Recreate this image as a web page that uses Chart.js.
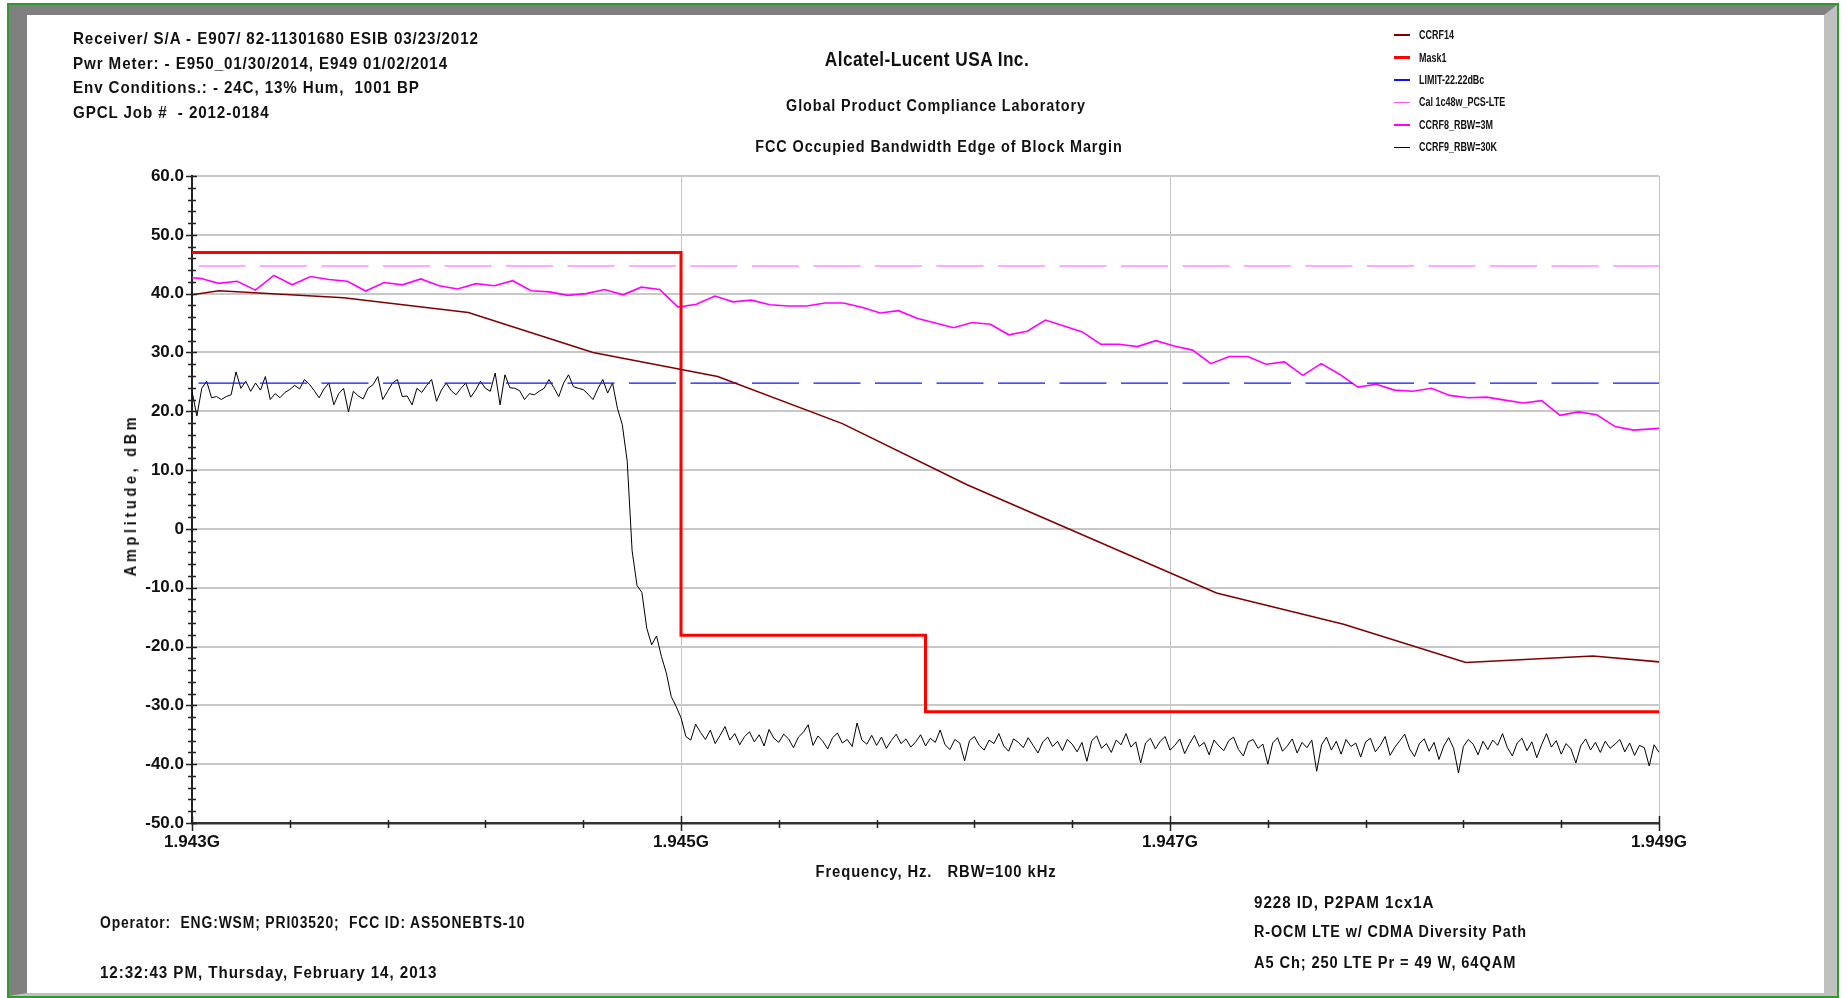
<!DOCTYPE html>
<html>
<head>
<meta charset="utf-8">
<script src="https://cdn.jsdelivr.net/npm/chart.js@4.4.1/dist/chart.umd.min.js"></script>
<style>
  html, body { margin: 0; padding: 0; background: #fff; }
  body { width: 1847px; height: 998px; position: relative; overflow: hidden;
         font-family: "Liberation Sans", Arial, sans-serif;
         font-weight: bold; color: #111; }
  #frame { position: absolute; left: 7px; top: 3px; width: 1828px; height: 991px;
           border: 2px solid #2e9b2e; }
  #bevel { position: absolute; left: 0; top: 0; right: 0; bottom: 0;
           border-left: 18px solid #808080; border-top: 10px solid #808080;
           border-right: 13px solid #c0c0c0; border-bottom: 3px solid #c0c0c0; }
  #chart { position: absolute; left: 0; top: 0; }
  .txt { position: absolute; white-space: pre; line-height: 1; display: inline-block; letter-spacing: 1px; }
  .left { transform-origin: left center; }
  .mid { transform-origin: center center; }
  #legend { position: absolute; left: 1394px; top: 24px; }
  .lg { height: 22.4px; display: flex; align-items: center; font-size: 12px; }
  .lg span { display: inline-block; transform-origin: left center; white-space: pre; }
  .sw { width: 16px; margin-right: 9px; flex: none; }
</style>
</head>
<body>
<div id="frame"><div id="bevel"></div></div>
<canvas id="chart" width="1847" height="998"></canvas>

<div class="txt left fit" data-w="406" style="left:73px; top:27px; font-size:17px; line-height:24.5px;">Receiver/ S/A - E907/ 82-11301680 ESIB 03/23/2012
Pwr Meter: - E950_01/30/2014, E949 01/02/2014
Env Conditions.: - 24C, 13% Hum,  1001 BP
GPCL Job #  - 2012-0184</div>

<div class="txt mid fit" data-w="204" data-pre="translateX(-50%)" style="left:927px; top:49px; font-size:20px; letter-spacing:0.5px;">Alcatel-Lucent USA Inc.</div>
<div class="txt mid fit" data-w="300" data-pre="translateX(-50%)" style="left:936px; top:98px; font-size:16px;">Global Product Compliance Laboratory</div>
<div class="txt mid fit" data-w="367" data-pre="translateX(-50%)" style="left:939px; top:139px; font-size:16px;">FCC Occupied Bandwidth Edge of Block Margin</div>

<div class="txt mid fit" data-w="241" data-pre="translateX(-50%)" style="left:936px; top:864px; font-size:16px;">Frequency, Hz.   RBW=100 kHz</div>
<div class="txt mid fit" data-w="163" data-pre="translateX(-50%) rotate(-90deg)" style="left:131px; top:487px; font-size:16px; letter-spacing:4px;">Amplitude, dBm</div>

<div class="txt left fit" data-w="425" style="left:100px; top:915px; font-size:16px;">Operator:  ENG:WSM; PRI03520;  FCC ID: AS5ONEBTS-10</div>
<div class="txt left fit" data-w="337" style="left:100px; top:965px; font-size:16px;">12:32:43 PM, Thursday, February 14, 2013</div>

<div class="txt left fit" data-w="180" style="left:1254px; top:895px; font-size:16px;">9228 ID, P2PAM 1cx1A</div>
<div class="txt left fit" data-w="273" style="left:1254px; top:924px; font-size:16px;">R-OCM LTE w/ CDMA Diversity Path</div>
<div class="txt left fit" data-w="262" style="left:1254px; top:955px; font-size:16px;">A5 Ch; 250 LTE Pr = 49 W, 64QAM</div>

<div id="legend"></div>

<script>
// --- Axis ranges / ticks ---
const xMin = 1.943, xMax = 1.949;
const yMin = -50, yMax = 60;
const xMajorTicks = [1.943, 1.945, 1.947, 1.949];
const xMinorStep = 0.0004;
const yMajorTicks = [-50, -40, -30, -20, -10, 0, 10, 20, 30, 40, 50, 60];
const yMinorStep = 2;

// --- CCRF14 (RBW trace, few vertices) ---
const ccrf14Freq = [1.943, 1.94311, 1.94362, 1.94413, 1.94464, 1.94515, 1.94566, 1.94617, 1.94719, 1.94771, 1.94821, 1.94873, 1.949];
const ccrf14Amp  = [39.8, 40.5, 39.3, 36.8, 30.0, 25.9, 17.9, 7.5, -10.9, -16.2, -22.7, -21.6, -22.6];

// --- Mask1 (step mask) ---
const maskFreq = [1.943, 1.945, 1.945, 1.946, 1.946, 1.949];
const maskAmp  = [47.0, 47.0, -18.1, -18.1, -31.1, -31.1];

// --- flat reference levels ---
const limitLevel = 24.78;   // LIMIT-22.22dBc
const calLevel = 44.7;      // Cal 1c48w_PCS-LTE

// --- CCRF8_RBW=3M (sweep points) ---
const ccrf8Start = 1.943034, ccrf8Step = 0.00007515;
const ccrf8EdgeLeft = 42.7, ccrf8EdgeRight = 17.1;
const ccrf8Amp = [
  42.6, 41.75, 42.1, 40.6, 43.1, 41.5, 42.9, 42.4, 42.1, 40.45,
  41.9, 41.5, 42.5, 41.35, 40.8, 41.7, 41.35, 42.2, 40.5, 40.3,
  39.7, 40.0, 40.7, 39.8, 41.1, 40.7, 37.7, 38.2, 39.6, 38.6,
  38.9, 38.1, 37.9, 37.9, 38.4, 38.4, 37.7, 36.7, 37.1, 35.8,
  35.0, 34.2, 35.1, 34.8, 33.0, 33.6, 35.5, 34.5, 33.5, 31.4,
  31.4, 31.0, 32.0, 31.1, 30.4, 28.1, 29.3, 29.3, 28.0, 28.4,
  26.1, 28.1, 26.3, 24.1, 24.6, 23.6, 23.4, 23.9, 22.7, 22.3,
  22.4, 21.9, 21.4, 21.8, 19.3, 19.9, 19.4, 17.4, 16.8
];

// --- CCRF9_RBW=30K (sweep points, 20 kHz) ---
const ccrf9Start = 1.943, ccrf9Step = 0.00002;
const ccrf9Amp = [
  23.4, 19.2, 23.9, 25.1, 22.3, 22.5, 22.0, 22.5, 22.8, 26.7,
  23.9, 25.1, 23.4, 24.8, 23.6, 25.9, 22.0, 23.0, 22.3, 23.2,
  23.7, 24.4, 23.8, 25.4, 24.6, 23.5, 22.3, 23.8, 24.8, 21.1,
  23.0, 23.9, 19.9, 23.4, 22.6, 22.1, 23.9, 24.5, 25.9, 22.0,
  23.4, 24.8, 25.4, 22.5, 22.6, 21.1, 23.9, 23.2, 24.4, 25.4,
  21.7, 23.6, 24.8, 23.5, 22.8, 23.9, 24.8, 22.4, 23.6, 25.1,
  23.9, 23.4, 26.5, 21.1, 26.2, 24.0, 23.9, 23.5, 22.0, 23.0,
  22.8, 23.4, 23.9, 25.4, 24.0, 22.5, 24.8, 26.2, 24.2, 23.9,
  23.7, 22.9, 22.0, 23.8, 25.4, 23.1, 24.8, 20.5, 17.7, 11.5,
  -3.7, -9.6, -10.8, -16.9, -19.7, -18.2, -21.7, -24.5, -28.5, -30.2,
  -32.1, -35.3, -35.9, -33.2, -34.6, -35.8, -34.2, -36.5, -35.1, -33.6,
  -35.9, -34.8, -36.7, -35.3, -34.5, -36.2, -35.0, -36.9, -34.1, -35.6,
  -36.3, -34.9, -35.7, -37.2, -35.4, -34.6, -33.3, -36.8, -35.2, -36.1,
  -37.4, -35.5, -34.7, -36.4, -35.8, -37.0, -33.0, -35.9, -36.6, -35.1,
  -36.8, -35.4, -37.3, -36.0, -34.9, -36.5, -35.7, -37.1, -36.2, -35.0,
  -36.9, -35.6, -36.3, -34.2, -36.7, -37.5, -35.8, -36.4, -39.4, -36.0,
  -35.3, -36.8, -37.6, -35.9, -36.5, -34.8, -36.9, -37.8, -35.7, -36.3,
  -37.2, -35.5, -36.8, -38.1, -36.2, -35.4, -37.0, -36.1, -37.7, -35.8,
  -36.6, -37.9, -36.3, -39.5, -36.0, -35.2, -37.3, -36.5, -38.0, -35.9,
  -36.7, -34.8, -37.1, -36.2, -39.8, -36.4, -35.6, -37.4, -36.1, -35.3,
  -37.6, -36.8, -35.7, -38.2, -36.5, -35.1, -37.0, -36.3, -38.4, -35.9,
  -36.9, -37.7, -36.0, -35.4, -37.5, -38.6, -36.2, -35.8, -37.3, -36.6,
  -40.0, -36.4, -35.5, -37.8, -36.9, -35.7, -38.1, -36.3, -37.2, -35.9,
  -41.2, -36.7, -35.4, -37.6, -36.1, -38.3, -35.8, -37.0, -36.4, -38.8,
  -36.2, -35.6, -37.9, -36.8, -35.3, -38.5, -37.1, -36.0, -34.9, -37.4,
  -38.7, -36.5, -35.7, -37.8, -36.3, -39.2, -36.9, -35.5, -37.3, -41.5,
  -37.0, -35.8, -36.6, -38.4, -36.1, -37.5, -35.9, -36.8, -34.8, -37.2,
  -38.6, -36.4, -35.6, -37.7, -36.2, -38.9, -36.7, -34.8, -37.1, -36.0,
  -38.3, -36.5, -37.4, -39.8, -36.9, -35.7, -37.6, -36.3, -38.0, -36.1,
  -37.3, -36.6, -35.8, -37.9, -36.4, -38.5, -36.8, -37.2, -40.3, -36.7,
  -38.0
];

// --- helpers to turn arrays into {x,y} points ---
function pairUp(freqs, amps) {
  return freqs.map((f, i) => ({ x: f, y: amps[i] }));
}
function sweep(start, step, amps) {
  return amps.map((a, i) => ({ x: start + i * step, y: a }));
}

const ccrf8Points = [{ x: xMin, y: ccrf8EdgeLeft }]
  .concat(sweep(ccrf8Start, ccrf8Step, ccrf8Amp))
  .concat([{ x: xMax, y: ccrf8EdgeRight }]);

const FONT = '"Liberation Sans", Arial, sans-serif';

// --- minor / major tick marks like the analyzer plot ---
const tickMarks = {
  id: 'tickMarks',
  afterDraw(chart) {
    const ctx = chart.ctx;
    const xs = chart.scales.x, ys = chart.scales.y;
    const axX = xs.left, axY = ys.bottom;
    ctx.save();
    ctx.strokeStyle = '#222';
    ctx.lineWidth = 1.5;
    ctx.beginPath();
    for (let v = yMin; v <= yMax + 1e-9; v += yMinorStep) {
      const py = Math.round(ys.getPixelForValue(v)) + 0.5;
      const major = yMajorTicks.includes(Math.round(v));
      ctx.moveTo(axX - (major ? 6 : 4), py);
      ctx.lineTo(axX + (major ? 5 : 4), py);
    }
    for (let v = xMin; v <= xMax + 1e-9; v += xMinorStep) {
      const px = Math.round(xs.getPixelForValue(v)) + 0.5;
      const major = xMajorTicks.some(t => Math.abs(t - v) < 1e-7);
      ctx.moveTo(px, axY - (major ? 7 : 3));
      ctx.lineTo(px, axY + (major ? 8 : 5));
    }
    ctx.stroke();
    ctx.restore();
  }
};

const chart = new Chart(document.getElementById('chart'), {
  type: 'line',
  data: {
    datasets: [
      { label: 'CCRF14', data: pairUp(ccrf14Freq, ccrf14Amp), borderColor: '#800000', borderWidth: 1.6 },
      { label: 'Mask1', data: pairUp(maskFreq, maskAmp), borderColor: '#ff0000', borderWidth: 3 },
      { label: 'LIMIT-22.22dBc', data: [{ x: xMin, y: limitLevel }, { x: xMax, y: limitLevel }],
        borderColor: '#1010ff', borderWidth: 1.2, borderDash: [47, 14.5], borderDashOffset: 55 },
      { label: 'Cal 1c48w_PCS-LTE', data: [{ x: xMin, y: calLevel }, { x: xMax, y: calLevel }],
        borderColor: '#ff55ff', borderWidth: 1.2, borderDash: [47, 14.5], borderDashOffset: 55 },
      { label: 'CCRF8_RBW=3M', data: ccrf8Points, borderColor: '#ff00ff', borderWidth: 1.6 },
      { label: 'CCRF9_RBW=30K', data: sweep(ccrf9Start, ccrf9Step, ccrf9Amp), borderColor: '#000000', borderWidth: 1 }
    ]
  },
  options: {
    responsive: false,
    animation: false,
    events: [],
    elements: { point: { radius: 0 }, line: { tension: 0, fill: false, borderJoinStyle: 'miter' } },
    layout: { padding: { top: 176, right: 188, bottom: 0, left: 0 } },
    plugins: { legend: { display: false }, tooltip: { enabled: false } },
    scales: {
      x: {
        type: 'linear', min: xMin, max: xMax,
        afterBuildTicks: s => { s.ticks = xMajorTicks.map(v => ({ value: v })); },
        afterFit: s => { s.height = 175; },
        grid: {
          drawTicks: false,
          color: c => (c.tick && Math.abs(c.tick.value - xMin) < 1e-7) ? 'rgba(0,0,0,0)' : '#c4c4c4',
          lineWidth: 1
        },
        border: { display: true, color: '#333', width: 2.5 },
        ticks: {
          padding: 9, color: '#111', maxRotation: 0, autoSkip: false,
          font: { family: FONT, size: 17, weight: 'bold' },
          callback: v => v.toFixed(3) + 'G'
        }
      },
      y: {
        type: 'linear', min: yMin, max: yMax,
        afterBuildTicks: s => { s.ticks = yMajorTicks.map(v => ({ value: v })); },
        afterFit: s => { s.width = 192; },
        grid: { drawTicks: false, color: '#c8c8c8', lineWidth: 2 },
        border: { display: true, color: '#222', width: 2 },
        ticks: {
          padding: 8, color: '#111', autoSkip: false,
          font: { family: FONT, size: 17, weight: 'bold' },
          callback: v => v === 0 ? '0' : v.toFixed(1)
        }
      }
    }
  },
  plugins: [tickMarks]
});

// --- legend built from the datasets ---
const legendBox = document.getElementById('legend');
chart.data.datasets.forEach(ds => {
  const row = document.createElement('div');
  row.className = 'lg';
  const sw = document.createElement('div');
  sw.className = 'sw';
  sw.style.height = Math.max(1, ds.borderWidth) + 'px';
  sw.style.background = ds.borderColor;
  const lb = document.createElement('span');
  lb.textContent = ds.label;
  row.appendChild(sw);
  row.appendChild(lb);
  legendBox.appendChild(row);
});
// squeeze legend labels to the narrow look of the original
const lgSpans = legendBox.querySelectorAll('span');
const lgScale = 86 / Math.max(...Array.from(lgSpans).map(s => s.offsetWidth));
lgSpans.forEach(s => { s.style.transform = `scaleX(${lgScale})`; });

// --- fit annotation texts to their widths in the original ---
document.querySelectorAll('.fit').forEach(el => {
  const s = parseFloat(el.dataset.w) / el.offsetWidth;
  el.style.transform = (el.dataset.pre || '') + ` scaleX(${s})`;
});
</script>
</body>
</html>
